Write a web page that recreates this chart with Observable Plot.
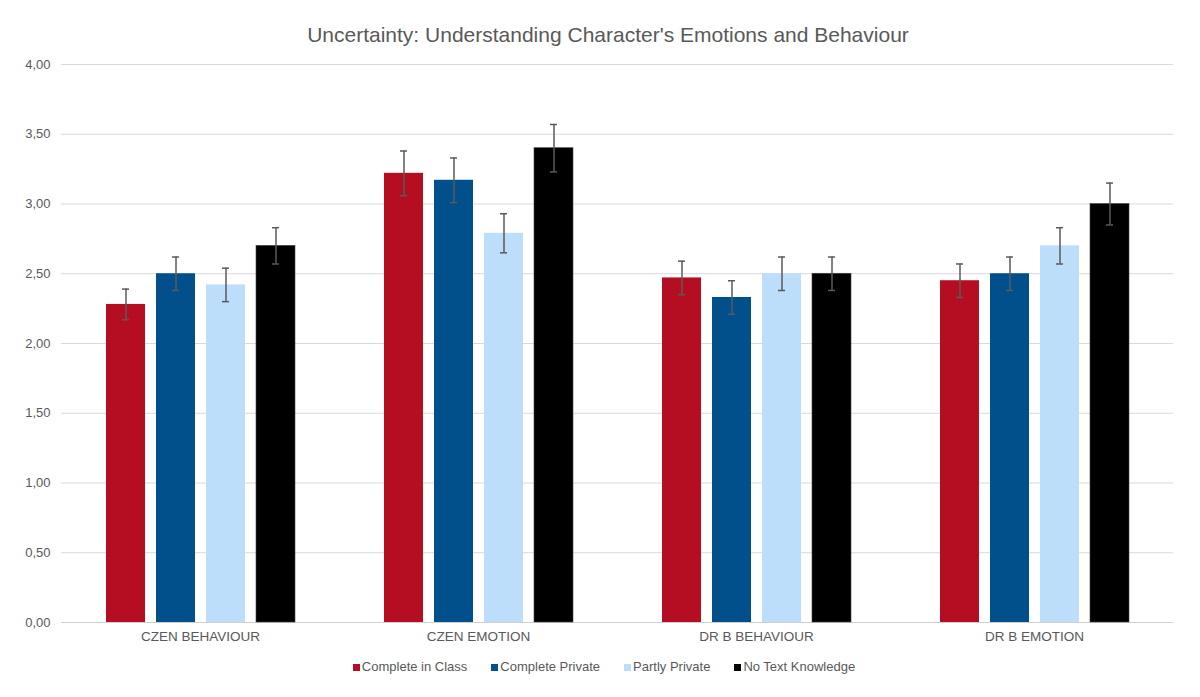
<!DOCTYPE html>
<html>
<head>
<meta charset="utf-8">
<script src="https://cdn.jsdelivr.net/npm/d3@7"></script>
<script src="https://cdn.jsdelivr.net/npm/@observablehq/plot@0.6"></script>
<style>
  html, body { margin: 0; padding: 0; background: #fff; }
  body { width: 1200px; height: 697px; overflow: hidden; font-family: "Liberation Sans", Arial, sans-serif; }
  #title { height: 50px; line-height: 70px; text-align: center; font-size: 21px; color: #595959; padding-left: 16px; white-space: nowrap; }
  #legend { display: flex; justify-content: center; gap: 24px; font-size: 13px; color: #595959; margin-top: 9px; padding-left: 8px; }
  #legend span.sw { display: inline-block; width: 7px; height: 7px; margin-right: 2px; }
</style>
</head>
<body>
<div id="title">Uncertainty: Understanding Character's Emotions and Behaviour</div>
<div id="chart"></div>
<div id="legend"></div>
<script>
const categories = ["CZEN BEHAVIOUR", "CZEN EMOTION", "DR B BEHAVIOUR", "DR B EMOTION"];
const series = ["Complete in Class", "Complete Private", "Partly Private", "No Text Knowledge"];
const colors = ["#B50E23", "#01508C", "#BDDEFB", "#000000"];

const completeInClass = [2.28, 3.22, 2.47, 2.45];
const completePrivate = [2.50, 3.17, 2.33, 2.50];
const partlyPrivate = [2.42, 2.79, 2.50, 2.70];
const noTextKnowledge = [2.70, 3.40, 2.50, 3.00];

const errCompleteInClass = [0.11, 0.16, 0.12, 0.12];
const errCompletePrivate = [0.12, 0.16, 0.12, 0.12];
const errPartlyPrivate = [0.12, 0.14, 0.12, 0.13];
const errNoTextKnowledge = [0.13, 0.17, 0.12, 0.15];

const yTicks = [0, 0.5, 1, 1.5, 2, 2.5, 3, 3.5, 4];

const valueSets = [completeInClass, completePrivate, partlyPrivate, noTextKnowledge];
const errSets = [errCompleteInClass, errCompletePrivate, errPartlyPrivate, errNoTextKnowledge];
const data = [];
series.forEach((s, i) => categories.forEach((c, j) => {
  data.push({category: c, series: s, value: valueSets[i][j], lo: valueSets[i][j] - errSets[i][j], hi: valueSets[i][j] + errSets[i][j]});
}));

const fmt = d => d.toFixed(2).replace(".", ",");
const txt = "#595959";
const errColor = "#5a5a5a";

const chart = Plot.plot({
  width: 1200,
  height: 600,
  marginLeft: 60,
  marginRight: 27,
  marginTop: 14,
  marginBottom: 28,
  style: {fontFamily: "'Liberation Sans', Arial, sans-serif", fontSize: "13px", color: txt, background: "#fff"},
  fx: {domain: categories, padding: 0, label: null},
  x: {domain: series, paddingInner: 0.228, paddingOuter: 0.866, axis: null},
  y: {domain: [0, 4], label: null},
  color: {domain: series, range: colors},
  marks: [
    Plot.gridY(yTicks, {stroke: "#d9d9d9", strokeOpacity: 1, strokeWidth: 1}),
    Plot.axisY(yTicks, {tickSize: 0, tickPadding: 11, tickFormat: fmt, fill: txt, label: null, fontSize: 13}),
    Plot.axisFx({anchor: "bottom", tickSize: 0, tickPadding: 9, fill: txt, label: null, fontSize: 13.5}),
    Plot.ruleY([0], {stroke: "#d0d0d0", strokeWidth: 1}),
    Plot.barY(data, {fx: "category", x: "series", y: "value", fill: "series", stroke: d => d.series === "No Text Knowledge" ? "#444" : "none", strokeWidth: 0.6}),
    Plot.ruleX(data, {fx: "category", x: "series", y1: "lo", y2: "hi", stroke: errColor, strokeWidth: 1.5}),
    Plot.tickY(data, {fx: "category", x: "series", y: "hi", stroke: errColor, strokeWidth: 1.5, inset: 16}),
    Plot.tickY(data, {fx: "category", x: "series", y: "lo", stroke: errColor, strokeWidth: 1.5, inset: 16})
  ]
});
document.getElementById("chart").appendChild(chart);

const legend = document.getElementById("legend");
series.forEach((s, i) => {
  const item = document.createElement("div");
  item.innerHTML = `<span class="sw" style="background:${colors[i]}"></span>${s}`;
  legend.appendChild(item);
});
</script>
</body>
</html>
